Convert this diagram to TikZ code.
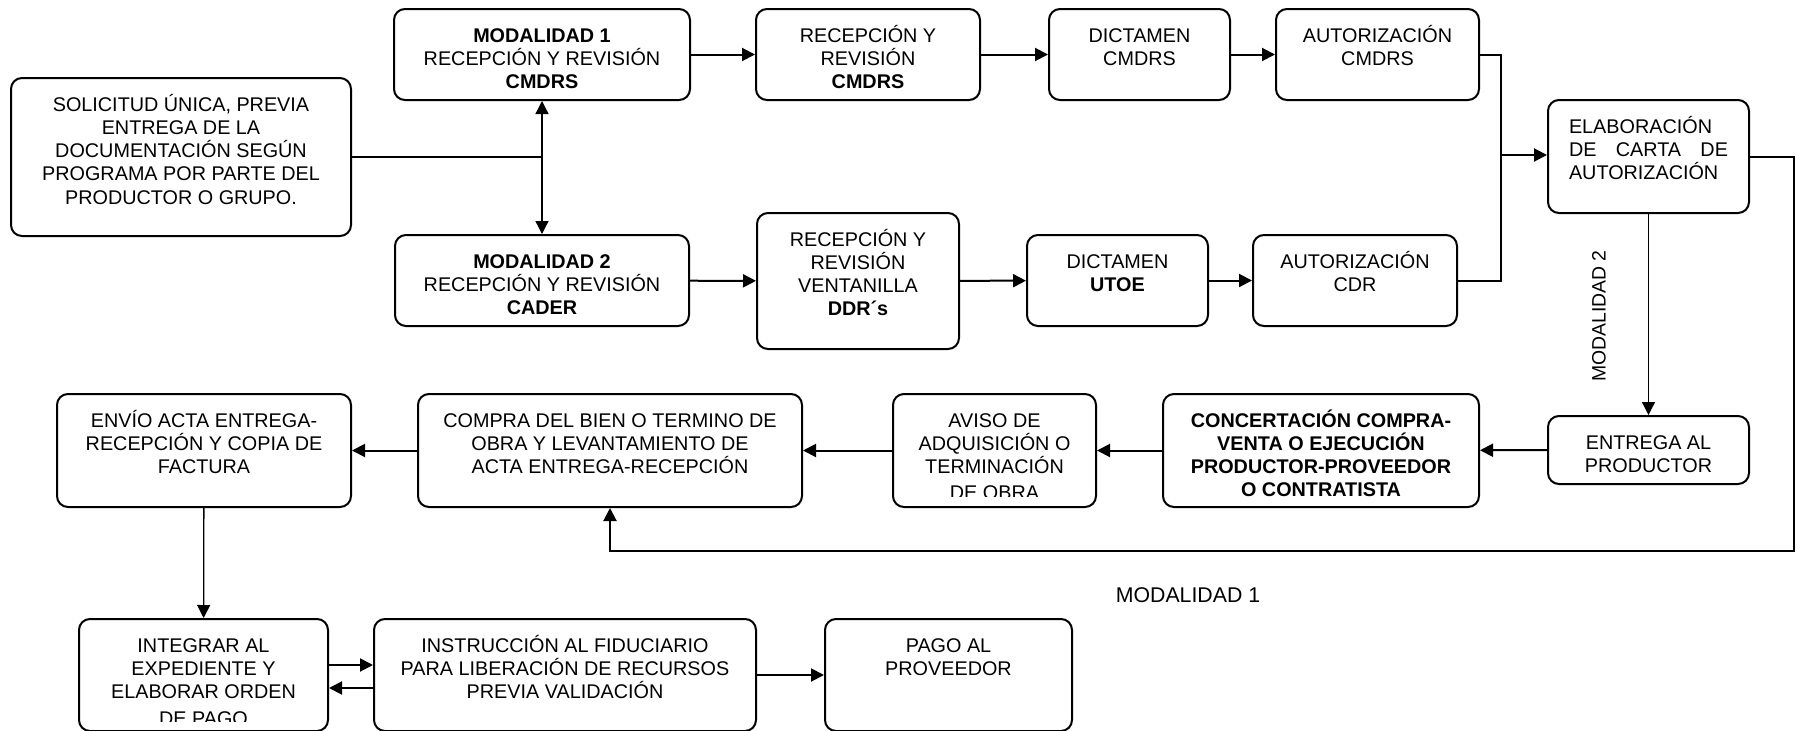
\documentclass[tikz,border=0pt]{standalone}
\usepackage{fontspec}
\setmainfont{Liberation Sans}
\usepackage{trimclip}
\usetikzlibrary{arrows.meta}

\begin{document}
\begin{tikzpicture}[x=1pt,y=-1pt,>={Triangle[length=13pt,width=13pt]},
    box/.style 2 args={draw,line width=2pt,rounded corners=11pt,inner sep=0pt,anchor=north west,
      font=\fontsize{19.8}{23.3}\selectfont,
      execute at begin node={\begin{minipage}[c][#2pt][t]{#1pt}\centering\rule{0pt}{33pt}},
      execute at end node={\end{minipage}}},
    link/.style={line width=2pt},
    thinlink/.style={line width=1.3pt}]
    \useasboundingbox (0,0) rectangle (1797,731);

    % first block: solicitud and the two modalities
    \node[box={340}{158}] (sol) at (10,77) {SOLICITUD ÚNICA, PREVIA\\ENTREGA DE LA\\DOCUMENTACIÓN SEGÚN\\PROGRAMA POR PARTE DEL\\PRODUCTOR O GRUPO.};
    \node[box={296}{91}] (mod1) at (393,8) {\textbf{MODALIDAD 1}\\RECEPCIÓN Y REVISIÓN\\\textbf{CMDRS}};
    \node[box={224}{91}] (recA) at (755,8) {RECEPCIÓN Y\\REVISIÓN\\\textbf{CMDRS}};
    \node[box={181}{91}] (dicA) at (1048,8) {DICTAMEN\\CMDRS};
    \node[box={203}{91}] (autA) at (1275,8) {AUTORIZACIÓN\\CMDRS};
    \node[box={201}{113}] (elab) at (1547,99) {\makebox[159pt][l]{ELABORACIÓN}\\\makebox[159pt][s]{DE CARTA DE}\\\makebox[159pt][l]{AUTORIZACIÓN}};
    \node[box={294}{91}] (mod2) at (394,234) {\textbf{MODALIDAD 2}\\RECEPCIÓN Y REVISIÓN\\\textbf{CADER}};
    \node[box={202}{136}] (recB) at (756,212) {RECEPCIÓN Y\\REVISIÓN\\VENTANILLA\\\textbf{DDR´s}};
    \node[box={181}{91}] (dicB) at (1026,234) {DICTAMEN\\\textbf{UTOE}};
    \node[box={204}{91}] (autB) at (1252,234) {AUTORIZACIÓN\\CDR};

    % second block: delivery and purchase
    \node[box={201}{68}] (entr) at (1547,415) {ENTREGA AL\\PRODUCTOR};
    \node[box={316}{113}] (conc) at (1162,393) {\bfseries CONCERTACIÓN COMPRA-\\VENTA O EJECUCIÓN\\PRODUCTOR-PROVEEDOR\\O CONTRATISTA};
    \node[box={203}{113}] (avis) at (892,393) {AVISO DE\\ADQUISICIÓN O\\TERMINACIÓN\\\clipbox{0pt 3pt 0pt 0pt}{DE OBRA}};
    \node[box={384}{113}] (comp) at (417,393) {COMPRA DEL BIEN O TERMINO DE\\OBRA Y LEVANTAMIENTO DE\\ACTA ENTREGA-RECEPCIÓN};
    \node[box={294}{113}] (envi) at (56,393) {ENVÍO ACTA ENTREGA-\\RECEPCIÓN Y COPIA DE\\FACTURA};

    % third block: payment
    \node[box={249}{112}] (inte) at (78,618) {INTEGRAR AL\\EXPEDIENTE Y\\ELABORAR ORDEN\\\clipbox{0pt 4pt 0pt 0pt}{DE PAGO}};
    \node[box={382}{112}] (inst) at (373,618) {INSTRUCCIÓN AL FIDUCIARIO\\PARA LIBERACIÓN DE RECURSOS\\PREVIA VALIDACIÓN};
    \node[box={247}{112}] (pago) at (824,618) {PAGO AL\\PROVEEDOR};

    \node[font=\fontsize{19.4}{23}\selectfont,rotate=90] (lab2) at (1599,316) {MODALIDAD 2};
    \node[font=\fontsize{21.3}{25}\selectfont] (lab1) at (1188,595) {MODALIDAD 1};

    \coordinate (mid) at (1501,155);
    \coordinate (back) at (1794,551);

    \draw[link] (sol.east) -- (sol.east -| mod1.south);
    \draw[thinlink,<->] (mod1) -- (mod2);
    \draw[link,->] (mod1) -- (recA);
    \draw[link,->] (recA) -- (dicA);
    \draw[link,->] (dicA) -- (autA);
    \draw[link] (autA.east) -| (mid) |- (autB.east);
    \draw[link,->] (mid) -- (mid -| elab.west);
    \draw[link,->] (mod2) -- (recB);
    \draw[link,->] (recB) -- (dicB);
    \draw[link,->] (dicB) -- (autB);
    \draw[thinlink,->] (elab) -- (entr);
    \draw[link,->] (elab.east) -| (back) -| (comp.south);
    \draw[link,->] (entr) -- (conc);
    \draw[link,->] (conc) -- (avis);
    \draw[link,->] (avis) -- (comp);
    \draw[link,->] (comp) -- (envi);
    \draw[thinlink,->] (envi) -- (inte);
    \draw[link,->] ([yshift=10pt]inte.east) -- ([yshift=10pt]inst.west);
    \draw[link,->] ([yshift=-13pt]inst.west) -- ([yshift=-13pt]inte.east);
    \draw[link,->] (inst) -- (pago);
\end{tikzpicture}
\end{document}
